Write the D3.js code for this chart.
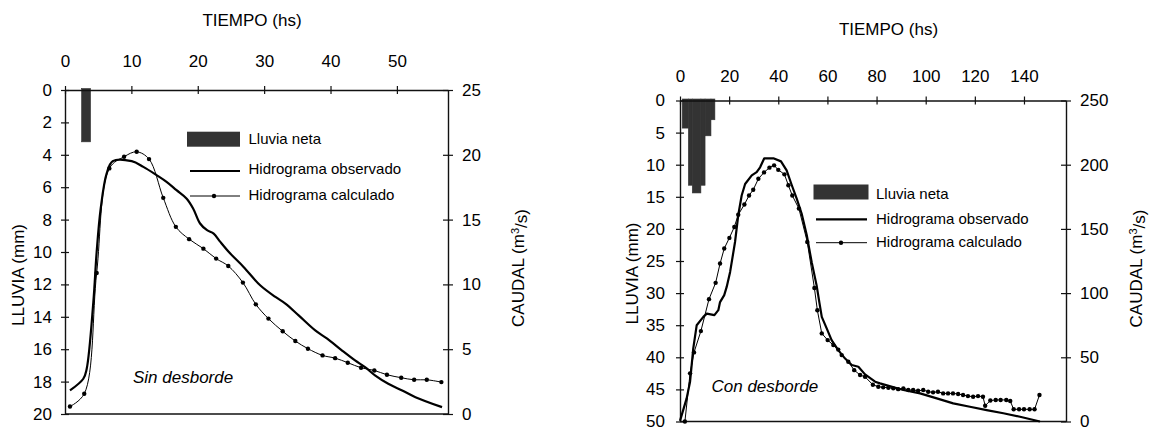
<!DOCTYPE html>
<html>
<head>
<meta charset="utf-8">
<script src="https://cdn.jsdelivr.net/npm/d3@7"></script>
<style>
  html, body { margin: 0; padding: 0; background: #fff; }
  svg text { font-family: "Liberation Sans", Arial, sans-serif; fill: #000; }
</style>
</head>
<body>
<svg id="chart" width="1155" height="427"></svg>
<script>
// ---------------- DATA ----------------
// Left panel: "Sin desborde"
const leftTimeTicks = [0, 10, 20, 30, 40, 50];
const leftRainTicks = [0, 2, 4, 6, 8, 10, 12, 14, 16, 18, 20];
const leftFlowTicks = [0, 5, 10, 15, 20, 25];
const leftRainStart = [2.5];
const leftRainEnd = [3.85];
const leftRainMm = [3.2];
const leftObsT = [0.75, 2.76, 3.27, 4.27, 4.77, 5.38, 6.28, 7.19, 10.05, 11.8, 13.8, 15.3, 16.8, 18.3, 19.3, 20.35, 21.4, 22.4, 23.4, 24.9, 26.9, 29.4, 31.7, 33.2, 35.2, 37.7, 39.5, 41.7, 43.7, 45.2, 46.7, 48.7, 50.8, 52.8, 56.8];
const leftObsQ = [1.82, 2.72, 3.49, 8.64, 12.5, 15.86, 18.56, 19.51, 19.51, 19.07, 18.43, 17.91, 17.27, 16.63, 15.86, 14.7, 14.18, 13.92, 13.28, 12.38, 11.35, 9.93, 9.03, 8.52, 7.61, 6.45, 5.81, 4.91, 4.13, 3.62, 2.98, 2.33, 1.82, 1.30, 0.53];
const leftCalcT = [0.75, 2.9, 4.77, 6.68, 8.9, 10.8, 12.66, 14.8, 16.7, 18.7, 20.85, 22.77, 24.6, 26.8, 28.75, 30.65, 32.8, 34.7, 36.6, 38.8, 40.7, 42.6, 44.6, 46.6, 48.5, 50.65, 52.6, 54.5, 56.7];
const leftCalcQ = [0.58, 1.56, 10.88, 18.95, 19.85, 20.23, 19.67, 16.68, 14.44, 13.49, 12.76, 11.99, 11.42, 10.14, 8.46, 7.36, 6.38, 5.63, 5.04, 4.52, 4.31, 3.96, 3.57, 3.36, 3.03, 2.80, 2.64, 2.64, 2.46];

// Right panel: "Con desborde"
const rightTimeTicks = [0, 20, 40, 60, 80, 100, 120, 140];
const rightRainTicks = [0, 5, 10, 15, 20, 25, 30, 35, 40, 45, 50];
const rightFlowTicks = [0, 50, 100, 150, 200, 250];
const rightRainStart = [0.9, 3.4, 5.0, 8.5, 10.2, 12.6];
const rightRainEnd = [3.4, 5.0, 8.5, 10.2, 12.6, 14.2];
const rightRainMm = [4.3, 13.2, 14.4, 13.2, 5.5, 3.0];
const rightObsT = [0, 2.7, 4.1, 5.4, 6.8, 9.5, 10.9, 14.0, 15.6, 16.3, 18.0, 19.0, 20.4, 22.4, 23.7, 25.1, 26.5, 29.2, 31.2, 32.6, 34.3, 38.0, 41.1, 43.4, 45.5, 47.5, 49.5, 51.6, 53.6, 55.6, 56.7, 57.7, 59.7, 61.7, 64.4, 67.2, 69.9, 72.6, 75.3, 79.4, 81.4, 90.9, 97.7, 104.5, 111.2, 118, 124.8, 131.6, 138.4, 146.5];
const rightObsQ = [0.5, 18, 31, 57, 75, 81.5, 84, 82.8, 86.7, 93, 98.4, 104.8, 116.5, 139.8, 160.6, 176, 185, 191.7, 194.2, 198, 205, 205, 202.6, 195.6, 184, 173.6, 162, 145, 124, 106, 93, 81.5, 72.5, 63.4, 55.6, 49, 44, 42.6, 36.7, 31, 29.7, 24.5, 21.9, 18, 14.1, 11.5, 8.9, 6.4, 3.7, 0];
const rightCalcT = [2.0, 4.1, 5.7, 8.5, 11.8, 14.5, 16.3, 18.0, 20.1, 22.1, 23.7, 26.2, 28.1, 29.8, 31.9, 34.2, 36.4, 38.3, 40.0, 42.5, 44.1, 45.7, 48.4, 51.8, 54.7, 55.9, 57.7, 60.1, 62.4, 64.4, 65.8, 68.5, 70.9, 73.3, 75.3, 78.5, 80.7, 82.7, 84.8, 86.8, 88.8, 90.9, 92.9, 94.9, 96.9, 99, 101, 103, 105, 107.1, 109.1, 111.1, 113.2, 115.2, 117.2, 119.3, 121.3, 123.3, 124.2, 126.3, 128.5, 130.5, 132.8, 134.4, 135.8, 138, 140, 142.3, 144.3, 146.3];
const rightCalcQ = [0, 37.5, 53.8, 70.4, 95.3, 108, 123, 134.7, 143, 151.5, 161, 169, 176, 180.5, 189, 194, 197.7, 199.5, 196, 192.5, 184, 176, 165.8, 139.8, 104, 86.7, 68.6, 63.4, 59.5, 56, 51.7, 46.5, 40, 36.2, 34.8, 28.6, 27.1, 26.6, 26.3, 25.8, 25.2, 25.8, 24.5, 24.5, 23.9, 24.5, 23.2, 22.7, 23.2, 21.9, 21.9, 21.9, 21.4, 20.6, 19.8, 19.3, 19.8, 19.3, 12.3, 16.3, 16.8, 16.8, 16.8, 16.0, 9.5, 9.5, 9.5, 9.5, 9.5, 20.6];

const legendLabels = ["Lluvia neta", "Hidrograma observado", "Hidrograma calculado"];
const timeTitle = "TIEMPO (hs)";
const rainTitle = "LLUVIA (mm)";
const panelNotes = ["Sin desborde", "Con desborde"];

// ---------------- LAYOUT ----------------
const svg = d3.select("#chart");
svg.append("rect").attr("width", 1155).attr("height", 427).attr("fill", "#fff");

const panels = [
  {
    x0: 65, x1: 448, y0: 90, y1: 414, tMax: 57.7, rainMax: 20, qMax: 25,
    timeTicks: leftTimeTicks, rainTicks: leftRainTicks, flowTicks: leftFlowTicks,
    rain: { s: leftRainStart, e: leftRainEnd, v: leftRainMm },
    obs: { t: leftObsT, q: leftObsQ, curve: d3.curveCatmullRom },
    calc: { t: leftCalcT, q: leftCalcQ, curve: d3.curveCatmullRom },
    topOff: 23, leftOff: 13, rightOff: 14,
    titleX: 252, titleY: 26, rainTitleX: 18, rainTitleY: 275, flowTitleX: 518, flowTitleY: 268,
    note: panelNotes[0], noteX: 133, noteY: 383,
    leg: { rx: 187, ry: 131.7, rw: 53, rh: 15, lx0: 190, lx1: 240, oy: 171, cy: 196, dotX: 214, tx: 248.5, ty: [139, 169, 194.5] }
  },
  {
    x0: 680, x1: 1066, y0: 100.5, y1: 421.5, tMax: 157.1, rainMax: 50, qMax: 250,
    timeTicks: rightTimeTicks, rainTicks: rightRainTicks, flowTicks: rightFlowTicks,
    rain: { s: rightRainStart, e: rightRainEnd, v: rightRainMm },
    obs: { t: rightObsT, q: rightObsQ, curve: d3.curveLinear },
    calc: { t: rightCalcT, q: rightCalcQ, curve: d3.curveLinear },
    topOff: 19, leftOff: 15, rightOff: 14,
    titleX: 888.5, titleY: 35, rainTitleX: 632, rainTitleY: 273.5, flowTitleX: 1136, flowTitleY: 268.5,
    note: panelNotes[1], noteX: 711.5, noteY: 392,
    leg: { rx: 813.5, ry: 184.5, rw: 55, rh: 15, lx0: 816, lx1: 867, oy: 219.3, cy: 242.7, dotX: 841, tx: 876, ty: [194, 219, 242] }
  }
];

const AX = "#111";

function crossTicks(g, orient) {
  g.selectAll(".tick line").attr("stroke", AX).attr("stroke-width", 1.2);
  if (orient === "top") g.selectAll(".tick line").attr("y1", 4).attr("y2", -4);
  if (orient === "left") g.selectAll(".tick line").attr("x1", 4).attr("x2", -4);
  if (orient === "right") g.selectAll(".tick line").attr("x1", -5).attr("x2", 5);
  g.select(".domain").attr("stroke", AX).attr("stroke-width", 1.4);
  g.selectAll(".tick text").attr("font-size", 17).attr("font-family", "Liberation Sans, Arial, sans-serif").attr("fill", "#000");
}

panels.forEach(p => {
  const x = d3.scaleLinear().domain([0, p.tMax]).range([p.x0, p.x1]);
  const yR = d3.scaleLinear().domain([0, p.rainMax]).range([p.y0, p.y1]);
  const yQ = d3.scaleLinear().domain([0, p.qMax]).range([p.y1, p.y0]);
  const g = svg.append("g");

  // rain bars (hyetograph hanging from the top)
  const rainRows = p.rain.s.map((s, i) => ({ s, e: p.rain.e[i], v: p.rain.v[i] }));
  g.append("g").selectAll("rect").data(rainRows).join("rect")
    .attr("x", d => x(d.s)).attr("width", d => x(d.e) - x(d.s))
    .attr("y", yR(0) - 1.5).attr("height", d => yR(d.v) - yR(0) + 1.5)
    .attr("fill", "#333").attr("stroke", "#333").attr("stroke-width", 0.6);

  // bottom frame line
  g.append("line").attr("x1", p.x0).attr("x2", p.x1).attr("y1", p.y1).attr("y2", p.y1)
    .attr("stroke", AX).attr("stroke-width", 1.4);

  // axes
  const top = g.append("g").attr("transform", `translate(0,${p.y0})`)
    .call(d3.axisTop(x).tickValues(p.timeTicks).tickSizeInner(4).tickSizeOuter(0).tickPadding(p.topOff - 4).tickFormat(d3.format("d")));
  crossTicks(top, "top");
  const left = g.append("g").attr("transform", `translate(${p.x0},0)`)
    .call(d3.axisLeft(yR).tickValues(p.rainTicks).tickSizeInner(4).tickSizeOuter(0).tickPadding(p.leftOff - 4).tickFormat(d3.format("d")));
  crossTicks(left, "left");
  const right = g.append("g").attr("transform", `translate(${p.x1},0)`)
    .call(d3.axisRight(yQ).tickValues(p.flowTicks).tickSizeInner(5).tickSizeOuter(0).tickPadding(p.rightOff - 5).tickFormat(d3.format("d")));
  crossTicks(right, "right");

  // hydrographs
  const obsRows = p.obs.t.map((t, i) => [t, p.obs.q[i]]);
  const calcRows = p.calc.t.map((t, i) => [t, p.calc.q[i]]);
  g.append("path").datum(obsRows)
    .attr("d", d3.line().x(d => x(d[0])).y(d => yQ(d[1])).curve(p.obs.curve))
    .attr("fill", "none").attr("stroke", "#000").attr("stroke-width", 2.2).attr("stroke-linejoin", "round");
  g.append("path").datum(calcRows)
    .attr("d", d3.line().x(d => x(d[0])).y(d => yQ(d[1])).curve(p.calc.curve))
    .attr("fill", "none").attr("stroke", "#000").attr("stroke-width", 1);
  g.append("g").selectAll("circle").data(calcRows).join("circle")
    .attr("cx", d => x(d[0])).attr("cy", d => yQ(d[1])).attr("r", 2.2).attr("fill", "#000");

  // titles
  g.append("text").attr("x", p.titleX).attr("y", p.titleY).attr("text-anchor", "middle")
    .attr("font-size", 17).text(timeTitle);
  g.append("text").attr("transform", `translate(${p.rainTitleX},${p.rainTitleY}) rotate(-90)`)
    .attr("text-anchor", "middle").attr("dy", "0.35em").attr("font-size", 17).text(rainTitle);
  const ft = g.append("text").attr("transform", `translate(${p.flowTitleX},${p.flowTitleY}) rotate(-90)`)
    .attr("text-anchor", "middle").attr("dy", "0.35em").attr("font-size", 17);
  ft.append("tspan").text("CAUDAL (m");
  ft.append("tspan").attr("dy", "-0.45em").attr("font-size", 11).text("3");
  ft.append("tspan").attr("dy", "0.45em").text("/s)");

  // panel note
  g.append("text").attr("x", p.noteX).attr("y", p.noteY).attr("font-size", 17)
    .attr("font-style", "italic").text(p.note);

  // legend
  const L = p.leg;
  g.append("rect").attr("x", L.rx).attr("y", L.ry).attr("width", L.rw).attr("height", L.rh).attr("fill", "#333");
  g.append("line").attr("x1", L.lx0).attr("x2", L.lx1).attr("y1", L.oy).attr("y2", L.oy)
    .attr("stroke", "#000").attr("stroke-width", 2.2);
  g.append("line").attr("x1", L.lx0).attr("x2", L.lx1).attr("y1", L.cy).attr("y2", L.cy)
    .attr("stroke", "#000").attr("stroke-width", 1);
  g.append("circle").attr("cx", L.dotX).attr("cy", L.cy).attr("r", 2.2).attr("fill", "#000");
  legendLabels.forEach((lab, i) => {
    g.append("text").attr("x", L.tx).attr("y", L.ty[i]).attr("dy", "0.35em")
      .attr("font-size", 15).text(lab);
  });
});
</script>
</body>
</html>
